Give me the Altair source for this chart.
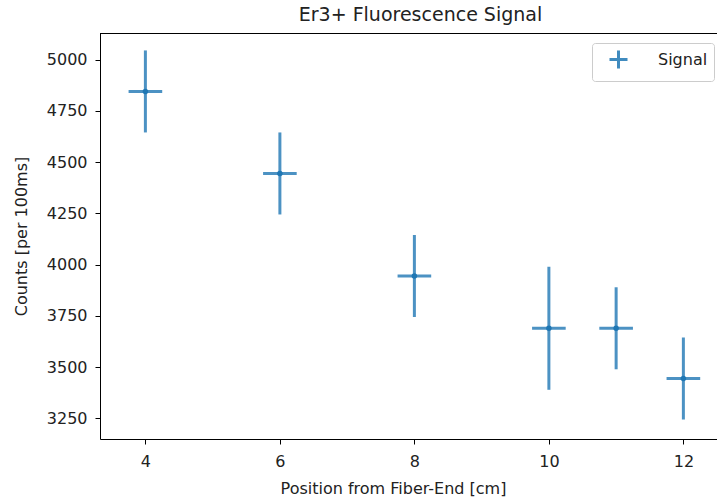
import altair as alt
import pandas as pd

# Data
positions = [4, 6, 8, 10, 11, 12]
counts = [4845, 4445, 3945, 3690, 3690, 3445]
count_err = [200, 200, 200, 300, 200, 200]
pos_err = [0.25, 0.25, 0.25, 0.25, 0.25, 0.25]
series = ["Signal"] * 6

x_ticks = [4, 6, 8, 10, 12]
y_ticks = [3250, 3500, 3750, 4000, 4250, 4500, 4750, 5000]

df = pd.DataFrame({
    "pos": positions,
    "count": counts,
    "lo": [c - e for c, e in zip(counts, count_err)],
    "hi": [c + e for c, e in zip(counts, count_err)],
    "xlo": [p - e for p, e in zip(positions, pos_err)],
    "xhi": [p + e for p, e in zip(positions, pos_err)],
    "series": series,
})

C0 = "#1f77b4"
FONT = "DejaVu Sans"
TEXT = "#222222"

x_scale = alt.Scale(domain=[3.325, 12.5], nice=False, zero=False)
y_scale = alt.Scale(domain=[3150, 5130], nice=False, zero=False)

color_enc = alt.Color(
    "series:N",
    scale=alt.Scale(domain=["Signal"], range=[C0]),
    legend=alt.Legend(
        title=None,
        orient="none",
        legendX=492,
        legendY=10,
        symbolType="M-1,0H1M0,-1V1",
        symbolSize=324,
        symbolStrokeWidth=3,
        symbolStrokeColor=C0,
        symbolOpacity=0.85,
        padding=6,
        symbolOffset=10,
        labelOffset=29,
        labelFontSize=16,
        labelFont=FONT,
        labelColor=TEXT,
        strokeColor="#cccccc",
        cornerRadius=3,
        fillColor="white",
    ),
)

base = alt.Chart(df)

vbars = base.mark_rule(strokeWidth=3, opacity=0.8).encode(
    x=alt.X("pos:Q", scale=x_scale,
            axis=alt.Axis(values=x_ticks, title="Position from Fiber-End [cm]",
                          format="d", labelPadding=9, titlePadding=11, titleX=293)),
    y=alt.Y("lo:Q", scale=y_scale,
            axis=alt.Axis(values=y_ticks, title="Counts [per 100ms]", format="d",
                          labelPadding=8, titlePadding=17)),
    y2="hi:Q",
    color=color_enc,
)

hbars = base.mark_rule(strokeWidth=3, opacity=0.8).encode(
    x=alt.X("xlo:Q", scale=x_scale),
    x2="xhi:Q",
    y=alt.Y("count:Q", scale=y_scale),
    color=color_enc,
)

points = base.mark_circle(size=30, opacity=1, color=C0).encode(
    x=alt.X("pos:Q", scale=x_scale),
    y=alt.Y("count:Q", scale=y_scale),
)

top_spine = base.mark_rule(color="black", strokeWidth=1).encode(
    x=alt.value(0), x2=alt.value(617), y=alt.value(0.5)
)

chart = alt.layer(vbars, hbars, points, top_spine).properties(
    width=617,
    height=406,
    background="white",
    title=alt.TitleParams(
        "Er3+ Fluorescence Signal",
        fontSize=19,
        fontWeight="normal",
        font=FONT,
        anchor="middle",
        frame="group",
        offset=8,
        dx=12,
        color=TEXT,
    ),
    autosize=alt.AutoSizeParams(type="none"),
    padding={"left": 100, "top": 33, "right": 0, "bottom": 65},
).configure_view(
    stroke=None
).configure_axis(
    grid=False,
    domainColor="black",
    domainWidth=1,
    tickColor="black",
    tickWidth=1,
    tickSize=5,
    labelFont=FONT,
    labelFontSize=16,
    labelColor=TEXT,
    titleFont=FONT,
    titleFontSize=16,
    titleFontWeight="normal",
    titleColor=TEXT,
)

chart.save("out.html", embed_options={"renderer": "svg", "actions": False})
